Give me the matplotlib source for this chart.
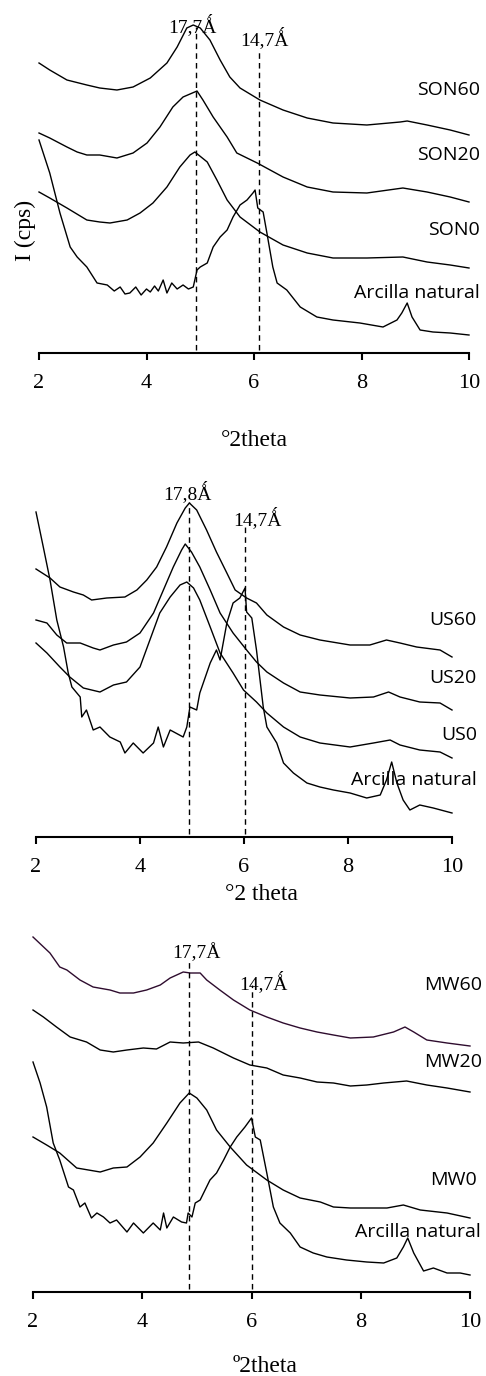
"""XRD patterns (2-10 deg 2theta) of natural clay vs. SON / US / MW treated samples."""

import matplotlib

matplotlib.use("Agg")
import matplotlib.pyplot as plt  # noqa: E402

# ---------------------------------------------------------------- data
# intensities are arbitrary (cps, vertically offset)

# panel 1 - SON
son60_x = [2.00, 2.20, 2.52, 2.89, 3.13, 3.45, 3.75, 4.07, 4.38, 4.57, 4.75, 4.87, 5.00, 5.18,
           5.37, 5.55, 5.74, 6.11, 6.54, 6.99, 7.47, 8.10, 8.72, 8.85, 9.22, 9.65, 10.0]
son60_y = [290, 283, 273, 268, 265, 263, 266, 275, 290, 306, 325, 328, 325, 313,
           293, 276, 265, 253, 243, 235, 230, 228, 231, 232, 228, 223, 218]
son20_x = [2.00, 2.20, 2.52, 2.71, 2.89, 3.13, 3.45, 3.75, 4.01, 4.25, 4.49, 4.68, 4.94, 5.05,
           5.24, 5.50, 5.68, 6.06, 6.54, 6.99, 7.47, 8.10, 8.77, 9.22, 9.65, 10.0]
son20_y = [220, 215, 206, 201, 198, 198, 195, 200, 210, 226, 246, 256, 262, 253,
           236, 216, 200, 190, 176, 166, 161, 160, 165, 161, 156, 151]
son0_x = [2.00, 2.20, 2.52, 2.89, 3.13, 3.32, 3.64, 3.88, 4.12, 4.38, 4.62, 4.81, 4.90, 5.13,
          5.31, 5.50, 5.74, 6.11, 6.54, 6.99, 7.47, 8.10, 8.77, 9.22, 9.65, 10.0]
son0_y = [161, 155, 145, 133, 131, 130, 133, 140, 150, 166, 186, 198, 201, 191,
          173, 153, 136, 121, 108, 100, 95, 95, 96, 91, 88, 85]
nat1_x = [2.00, 2.20, 2.39, 2.58, 2.71, 2.89, 3.08, 3.27, 3.40, 3.51, 3.60, 3.69, 3.80, 3.90,
          4.00, 4.07, 4.15, 4.22, 4.31, 4.38, 4.47, 4.57, 4.68, 4.78, 4.87, 4.94, 5.00, 5.13,
          5.24, 5.37, 5.50, 5.61, 5.74, 5.87, 5.98, 6.02, 6.07, 6.17, 6.24, 6.35, 6.43, 6.61,
          6.86, 7.17, 7.47, 7.97, 8.40, 8.66, 8.75, 8.85, 8.94, 9.09, 9.33, 9.65, 10.0]
nat1_y = [213, 180, 140, 106, 96, 86, 70, 68, 62, 66, 59, 60, 66, 58,
          64, 61, 67, 62, 73, 60, 70, 64, 68, 64, 66, 83, 86, 90,
          106, 116, 123, 136, 148, 153, 160, 163, 145, 141, 120, 86, 70, 63,
          46, 36, 33, 30, 26, 33, 40, 50, 36, 23, 21, 20, 18]

# panel 2 - US
us60_x = [2.00, 2.27, 2.46, 2.72, 2.91, 3.07, 3.36, 3.71, 3.94, 4.13, 4.32, 4.51, 4.71, 4.87,
          4.95, 5.09, 5.28, 5.47, 5.67, 5.83, 6.05, 6.24, 6.44, 6.76, 7.08, 7.46, 8.04, 8.42,
          8.74, 9.00, 9.32, 9.77, 10.0]
us60_y = [268, 259, 250, 245, 242, 237, 239, 240, 247, 257, 270, 290, 314, 329,
          334, 327, 307, 285, 264, 247, 239, 234, 222, 210, 202, 197, 192, 192,
          197, 194, 190, 187, 180]
us20_x = [2.00, 2.21, 2.40, 2.59, 2.85, 3.10, 3.23, 3.49, 3.74, 4.00, 4.26, 4.45, 4.64, 4.80,
          4.87, 4.99, 5.15, 5.35, 5.54, 5.79, 6.05, 6.24, 6.44, 6.76, 7.08, 7.46, 8.04, 8.49,
          8.78, 9.00, 9.38, 9.77, 10.0]
us20_y = [217, 214, 202, 194, 194, 189, 187, 192, 195, 204, 224, 247, 270, 287,
          293, 285, 270, 247, 224, 204, 187, 175, 165, 154, 145, 142, 139, 140,
          145, 140, 135, 134, 127]
us0_x = [2.00, 2.21, 2.46, 2.65, 2.91, 3.23, 3.49, 3.74, 4.00, 4.19, 4.38, 4.58, 4.77, 4.90,
         5.03, 5.15, 5.35, 5.54, 5.79, 5.99, 6.24, 6.44, 6.76, 7.08, 7.46, 8.04, 8.49, 8.81,
         9.00, 9.38, 9.77, 10.0]
us0_y = [194, 184, 170, 160, 149, 145, 152, 155, 170, 197, 224, 240, 252, 255,
         249, 237, 210, 184, 164, 147, 135, 124, 110, 100, 94, 90, 94, 97,
         92, 87, 85, 79]
nat2_x = [2.00, 2.14, 2.27, 2.40, 2.53, 2.62, 2.69, 2.85, 2.88, 2.97, 3.10, 3.23, 3.42, 3.62,
          3.71, 3.87, 4.06, 4.26, 4.35, 4.45, 4.58, 4.83, 4.90, 4.96, 5.09, 5.15, 5.35, 5.47,
          5.54, 5.67, 5.79, 5.92, 6.02, 6.05, 6.15, 6.24, 6.37, 6.44, 6.63, 6.76, 6.95, 7.21,
          7.46, 7.72, 8.04, 8.36, 8.62, 8.74, 8.84, 8.94, 9.06, 9.19, 9.38, 9.64, 10.0]
nat2_y = [325, 290, 257, 217, 190, 164, 150, 140, 120, 127, 107, 110, 100, 95,
          84, 94, 84, 94, 110, 90, 107, 100, 110, 130, 127, 144, 174, 187,
          177, 214, 234, 239, 249, 225, 219, 187, 130, 110, 94, 74, 64, 54,
          50, 47, 44, 39, 42, 57, 75, 54, 37, 27, 32, 29, 24]

# panel 3 - MW
mw60_x = [2.00, 2.31, 2.49, 2.62, 2.86, 3.10, 3.41, 3.59, 3.84, 4.08, 4.33, 4.51, 4.75, 4.88,
          5.06, 5.18, 5.42, 5.67, 5.97, 6.28, 6.58, 6.89, 7.20, 7.50, 7.81, 8.23, 8.60, 8.81,
          8.97, 9.21, 9.58, 10.0]
mw60_y = [355, 339, 325, 322, 312, 305, 302, 299, 299, 302, 307, 314, 320, 319,
          319, 312, 302, 292, 282, 275, 269, 264, 260, 257, 254, 255, 260, 265,
          260, 252, 249, 246]
mw20_x = [2.00, 2.19, 2.43, 2.68, 2.98, 3.23, 3.47, 3.72, 4.02, 4.26, 4.51, 4.75, 5.03, 5.30,
          5.67, 5.97, 6.28, 6.58, 6.89, 7.20, 7.50, 7.81, 8.11, 8.42, 8.84, 9.21, 9.58, 10.0]
mw20_y = [282, 275, 265, 255, 250, 242, 240, 242, 244, 243, 250, 249, 250, 244,
          234, 227, 224, 217, 214, 210, 209, 206, 207, 209, 211, 207, 204, 200]
mw0_x = [2.00, 2.25, 2.49, 2.80, 3.23, 3.47, 3.72, 3.96, 4.20, 4.45, 4.69, 4.86, 5.00, 5.18,
         5.36, 5.61, 5.91, 6.28, 6.58, 6.89, 7.26, 7.50, 7.81, 8.11, 8.48, 8.78, 9.09, 9.58, 10.0]
mw0_y = [155, 147, 139, 124, 120, 124, 125, 135, 149, 169, 189, 199, 194, 182,
         162, 145, 127, 112, 102, 94, 90, 85, 84, 84, 84, 87, 82, 79, 74]
nat3_x = [2.00, 2.13, 2.25, 2.37, 2.49, 2.65, 2.74, 2.86, 2.95, 3.07, 3.17, 3.29, 3.41, 3.53,
          3.72, 3.84, 4.02, 4.20, 4.33, 4.39, 4.45, 4.57, 4.72, 4.81, 4.84, 4.91, 4.97, 5.06,
          5.24, 5.36, 5.49, 5.61, 5.73, 5.88, 6.00, 6.07, 6.16, 6.28, 6.40, 6.52, 6.71, 6.89,
          7.13, 7.38, 7.74, 8.11, 8.42, 8.66, 8.78, 8.86, 8.97, 9.15, 9.33, 9.58, 9.82, 10.0]
nat3_y = [230, 209, 185, 149, 132, 105, 102, 85, 89, 74, 79, 75, 69, 72,
          60, 69, 59, 69, 62, 79, 64, 75, 70, 69, 79, 75, 89, 92,
          112, 119, 132, 145, 155, 165, 174, 155, 152, 119, 85, 69, 59, 45,
          39, 35, 32, 30, 29, 34, 45, 54, 39, 21, 24, 19, 19, 17]

xticks = [2, 4, 6, 8, 10]

SERIF = ["Liberation Serif", "DejaVu Serif"]
SANS = ["Open Sans", "DejaVu Sans"]

panels = [
    {
        "rect": (39, 469, 353, 0), "ymax": 353,
        "curves": [(son60_x, son60_y), (son20_x, son20_y), (son0_x, son0_y), (nat1_x, nat1_y)],
        "colors": ["black"] * 4,
        "names": [("SON60", 10.2, 263), ("SON20", 10.2, 198), ("SON0", 10.2, 123),
                  ("Arcilla natural", 10.2, 60)],
        "vlines": [(4.92, 326), (6.09, 303)],
        "peaks": [("17,7\u01fa", 4.85, 328), ("14,7\u01fa", 6.2, 315)],
        "xlabel": ("°2theta", 6.0, -87), "ylabel": (1.74, 123),
    },
    {
        "rect": (36, 452, 837, 480), "ymax": 357,
        "curves": [(us60_x, us60_y), (us20_x, us20_y), (us0_x, us0_y), (nat2_x, nat2_y)],
        "colors": ["black"] * 4,
        "names": [("US60", 10.48, 217), ("US20", 10.48, 159), ("US0", 10.48, 102),
                  ("Arcilla natural", 10.48, 57)],
        "vlines": [(4.94, 335), (6.02, 310)],
        "peaks": [("17,8\u01fa", 4.92, 345), ("14,7\u01fa", 6.25, 319)],
        "xlabel": ("°2 theta", 6.33, -58), "ylabel": None,
    },
    {
        "rect": (33, 470, 1292, 920), "ymax": 372,
        "curves": [(mw60_x, mw60_y), (mw20_x, mw20_y), (mw0_x, mw0_y), (nat3_x, nat3_y)],
        "colors": ["#2e0c2e", "black", "black", "black"],
        "names": [("MW60", 10.22, 307), ("MW20", 10.22, 230), ("MW0", 10.13, 112),
                  ("Arcilla natural", 10.19, 60)],
        "vlines": [(4.86, 332), (6.0, 307)],
        "peaks": [("17,7Å", 5.0, 339), ("14,7\u01fa", 6.21, 310)],
        "xlabel": ("º2theta", 6.25, -75), "ylabel": None,
    },
]

W, H = 486, 1376
fig = plt.figure(figsize=(W / 100, H / 100), dpi=100)

for p in panels:
    x0, x1, yb, yt = p["rect"]
    ax = fig.add_axes([x0 / W, 1 - yb / H, (x1 - x0) / W, (yb - yt) / H])
    ax.set_xlim(2, 10)
    ax.set_ylim(0, p["ymax"])
    for (cx, cy), col in zip(p["curves"], p["colors"]):
        ax.plot(cx, cy, color=col, lw=1.0, clip_on=False)
    for xv, top in p["vlines"]:
        ax.plot([xv, xv], [3, top], color="black", lw=1.0, ls=(0, (4, 3)))
    for txt, tx, ty in p["peaks"]:
        ax.text(tx, ty, txt, family=SERIF, fontsize=14, ha="center", va="center")
    for txt, tx, ty in p["names"]:
        ax.text(tx, ty, txt, family=SANS, fontsize=14, ha="right", va="center",
                clip_on=False)
    lbl, lx, ly = p["xlabel"]
    ax.text(lx, ly, lbl, family=SERIF, fontsize=17, ha="center", va="center")
    if p["ylabel"]:
        yx, yy = p["ylabel"]
        ax.text(yx, yy, "I (cps)", family=SERIF, fontsize=17, rotation=90,
                ha="center", va="center", clip_on=False)

    for side in ("left", "right", "top"):
        ax.spines[side].set_visible(False)
    ax.spines["bottom"].set_linewidth(1.5)
    ax.set_yticks([])
    ax.set_xticks(xticks)
    ax.set_xticklabels([str(t) for t in xticks], family=SERIF, fontsize=16)
    ax.tick_params(axis="x", direction="out", length=5, width=1.5, pad=10)
    ax.patch.set_visible(False)

fig.savefig("out.png", dpi=100)
